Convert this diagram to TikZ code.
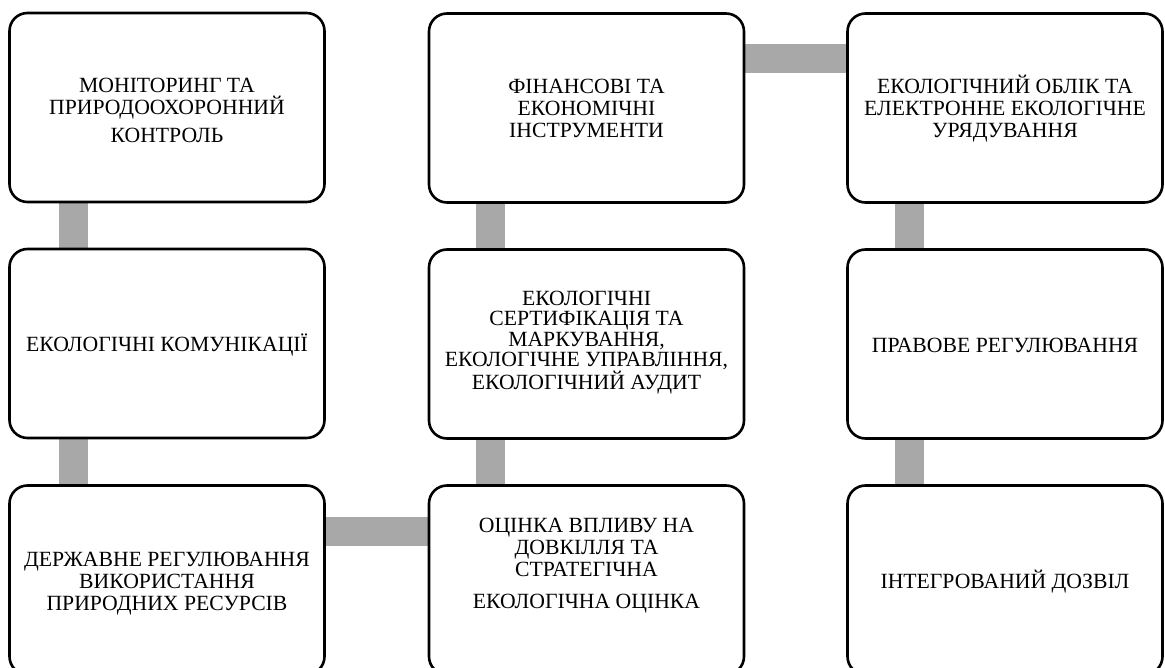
\documentclass[tikz,border=0pt]{standalone}
\usepackage{fontspec}
\setmainfont{Liberation Serif}
\usetikzlibrary{calc,backgrounds}
\definecolor{conngray}{HTML}{A8A8A8}
\tikzset{
  box/.style={draw=black, line width=2.6pt, fill=white, rounded corners=18pt,
    minimum width=315pt, minimum height=189pt, inner sep=0pt},
  txt/.style={align=center, font=\fontsize{21.7pt}{22pt}\selectfont, inner sep=0pt},
  conn/.style={draw=conngray, line width=29pt}
}
\begin{document}
\begin{tikzpicture}[x=1pt,y=-1pt]
\useasboundingbox (0,0) rectangle (1165,668);
\clip (0,0) rectangle (1165,668);
% boxes
\node[box] (n1) at (167,107.5) {};
\node[box] (n2) at (586.5,108) {};
\node[box] (n3) at (1005,108) {};
\node[box] (n4) at (167,343.5) {};
\node[box] (n5) at (586.5,344) {};
\node[box] (n6) at (1005,344) {};
\node[box] (n7) at (167,580) {};
\node[box] (n8) at (586.5,580) {};
\node[box] (n9) at (1005,580) {};
% texts
\node[txt] (t1) at (167,110) {МОНІТОРИНГ ТА\\ПРИРОДООХОРОННИЙ\\[6pt]КОНТРОЛЬ};
\node[txt] (t2) at (586.5,108.5) {ФІНАНСОВІ ТА\\ЕКОНОМІЧНІ\\ІНСТРУМЕНТИ};
\node[txt] (t3) at (1005,108.5) {ЕКОЛОГІЧНИЙ ОБЛІК ТА\\ЕЛЕКТРОННЕ ЕКОЛОГІЧНЕ\\УРЯДУВАННЯ};
\node[txt] (t4) at (167,345) {ЕКОЛОГІЧНІ КОМУНІКАЦІЇ};
\node[txt,font=\fontsize{21.7pt}{20.3pt}\selectfont] (t5) at (586.5,342.5) {ЕКОЛОГІЧНІ\\СЕРТИФІКАЦІЯ ТА\\МАРКУВАННЯ,\\ЕКОЛОГІЧНЕ УПРАВЛІННЯ,\\ЕКОЛОГІЧНИЙ АУДИТ};
\node[txt] (t6) at (1005,345) {ПРАВОВЕ РЕГУЛЮВАННЯ};
\node[txt] (t7) at (167,584) {ДЕРЖАВНЕ РЕГУЛЮВАННЯ\\ВИКОРИСТАННЯ\\ПРИРОДНИХ РЕСУРСІВ};
\node[txt] (t8) at (586.5,565.5) {ОЦІНКА ВПЛИВУ НА\\ДОВКІЛЛЯ ТА\\СТРАТЕГІЧНА\\[10pt]ЕКОЛОГІЧНА ОЦІНКА};
\node[txt] (t9) at (1005,582) {ІНТЕГРОВАНИЙ ДОЗВІЛ};
% connectors
\begin{scope}[on background layer]
\draw[conn] ($(n1.south west)+(65,0)$) -- ($(n4.north west)+(65,0)$);
\draw[conn] ($(n4.south west)+(65,0)$) -- ($(n7.north west)+(65,0)$);
\draw[conn] ($(n7.north east)+(0,47.5)$) -- ($(n8.north west)+(0,47.5)$);
\draw[conn] ($(n8.north west)+(63,0)$) -- ($(n5.south west)+(63,0)$);
\draw[conn] ($(n5.north west)+(63,0)$) -- ($(n2.south west)+(63,0)$);
\draw[conn] ($(n2.north east)+(0,46.5)$) -- ($(n3.north west)+(0,46.5)$);
\draw[conn] ($(n3.south west)+(63,0)$) -- ($(n6.north west)+(63,0)$);
\draw[conn] ($(n6.south west)+(63,0)$) -- ($(n9.north west)+(63,0)$);
\end{scope}
\end{tikzpicture}
\end{document}
